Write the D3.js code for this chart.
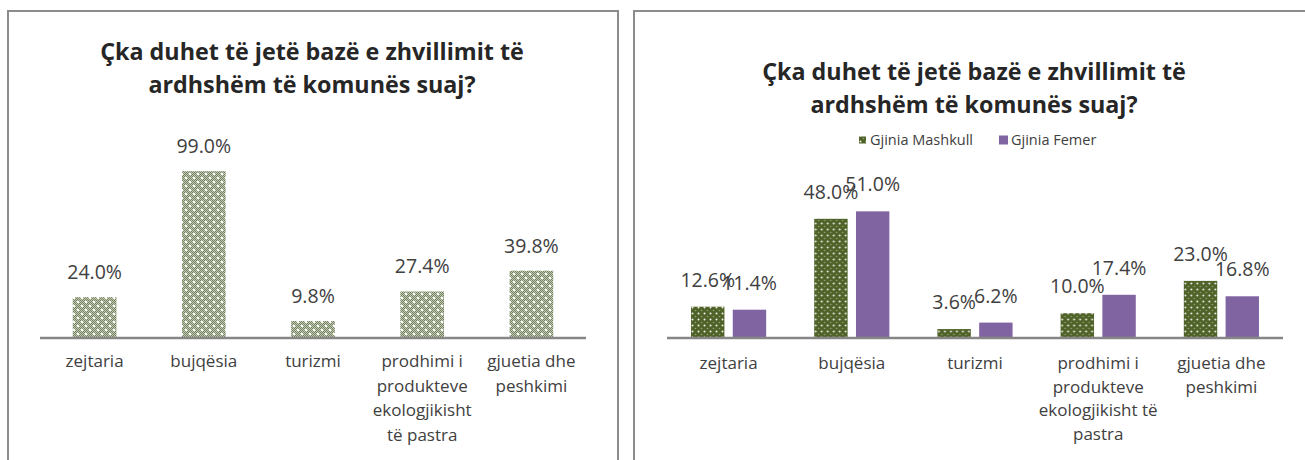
<!DOCTYPE html>
<html lang="sq">
<head>
<meta charset="utf-8">
<title>Çka duhet të jetë bazë e zhvillimit</title>
<script src="https://d3js.org/d3.v7.min.js"></script>
<style>
    body { margin: 0; background: #fff; }
    svg { font-family: "Open Sans", sans-serif; }
    .title { font-weight: bold; fill: #262626; font-size: 23.3px; }
    .lbl { fill: #404040; font-size: 19.5px; }
    .cat { fill: #404040; font-size: 17px; }
    .leg { fill: #404040; font-size: 14.5px; }
</style>
</head>
<body>
<svg id="chart" width="1305" height="460"></svg>
<script>
    // data
    const titleLines = ["Çka duhet të jetë bazë e zhvillimit të", "ardhshëm të komunës suaj?"];
    const categories = ["zejtaria", "bujqësia", "turizmi", "prodhimi", "gjuetia"];
    const catLinesLeft = [["zejtaria"], ["bujqësia"], ["turizmi"],
        ["prodhimi i", "produkteve", "ekologjikisht", "të pastra"], ["gjuetia dhe", "peshkimi"]];
    const catLinesRight = [["zejtaria"], ["bujqësia"], ["turizmi"],
        ["prodhimi i", "produkteve", "ekologjikisht të", "pastra"], ["gjuetia dhe", "peshkimi"]];
    const totalValues = [0.240, 0.990, 0.098, 0.274, 0.398];
    const seriesNames = ["Gjinia Mashkull", "Gjinia Femer"];
    const maleValues = [0.126, 0.480, 0.036, 0.100, 0.230];
    const femaleValues = [0.114, 0.510, 0.062, 0.174, 0.168];

    const svg = d3.select("#chart");
    const fmt = d3.format(".1%");

    // patterns
    const defs = svg.append("defs");
    const chk = defs.append("pattern").attr("id", "chk").attr("patternUnits", "userSpaceOnUse")
        .attr("width", 2).attr("height", 2);
    chk.append("rect").attr("width", 2).attr("height", 2).attr("fill", "#c5ccb8");
    chk.append("rect").attr("width", 1).attr("height", 1).attr("fill", "#6f7f5a");
    chk.append("rect").attr("x", 1).attr("y", 1).attr("width", 1).attr("height", 1).attr("fill", "#6f7f5a");

    const lp = defs.append("pattern").attr("id", "leftPat").attr("patternUnits", "userSpaceOnUse")
        .attr("width", 8).attr("height", 8);
    lp.append("rect").attr("width", 8).attr("height", 8).attr("fill", "url(#chk)");
    lp.append("circle").attr("cx", 2).attr("cy", 2).attr("r", 1.3).attr("fill", "#fff");
    lp.append("circle").attr("cx", 6).attr("cy", 6).attr("r", 1.3).attr("fill", "#fff");

    const mp = defs.append("pattern").attr("id", "malePat").attr("patternUnits", "userSpaceOnUse")
        .attr("width", 6).attr("height", 6);
    mp.append("rect").attr("width", 6).attr("height", 6).attr("fill", "#4f6228");
    mp.append("circle").attr("cx", 1.5).attr("cy", 1.5).attr("r", 1).attr("fill", "#f2f2ea");
    mp.append("circle").attr("cx", 4.5).attr("cy", 4.5).attr("r", 0.8).attr("fill", "#95a37a");

    // panel frames
    svg.append("rect").attr("x", 8).attr("y", 11).attr("width", 610).attr("height", 470)
        .attr("fill", "none").attr("stroke", "#8c8c8c").attr("stroke-width", 2);
    svg.append("rect").attr("x", 634).attr("y", 11).attr("width", 700).attr("height", 470)
        .attr("fill", "none").attr("stroke", "#8c8c8c").attr("stroke-width", 2);

    function drawTitle(cx, y0, gap) {
        svg.append("g").selectAll("text").data(titleLines).join("text")
            .attr("class", "title").attr("text-anchor", "middle")
            .attr("x", cx).attr("y", (d, i) => y0 + i * gap).text(d => d);
    }

    function drawCats(g, x, lines, y0, lh) {
        g.selectAll("text.cat").data(categories).join("text")
            .attr("class", "cat").attr("text-anchor", "middle")
            .each(function(d, i) {
                d3.select(this).selectAll("tspan").data(lines[i]).join("tspan")
                    .attr("x", x(d) + x.bandwidth() / 2)
                    .attr("y", (t, j) => y0 + j * lh).text(t => t);
            });
    }

    // ---- left chart ----
    drawTitle(312, 60, 33);
    const gL = svg.append("g");
    const xL = d3.scaleBand().domain(categories).range([40, 586]).paddingInner(0.6).paddingOuter(0.3);
    const yL = d3.scaleLinear().domain([0, 1]).range([337.5, 169.5]);
    gL.selectAll("rect.bar").data(totalValues).join("rect").attr("class", "bar")
        .attr("x", (d, i) => xL(categories[i])).attr("width", xL.bandwidth())
        .attr("y", d => yL(d)).attr("height", d => yL(0) - yL(d))
        .attr("fill", "url(#leftPat)");
    gL.selectAll("text.lbl").data(totalValues).join("text").attr("class", "lbl")
        .attr("text-anchor", "middle")
        .attr("x", (d, i) => xL(categories[i]) + xL.bandwidth() / 2)
        .attr("y", d => yL(d) - 18).text(d => fmt(d));
    gL.append("line").attr("x1", 40).attr("x2", 586).attr("y1", yL(0) + 0.5).attr("y2", yL(0) + 0.5)
        .attr("stroke", "#868686").attr("stroke-width", 2.5);
    const xLc = xL.copy().paddingInner(0).paddingOuter(0);
    drawCats(gL, xLc, catLinesLeft, 367, 24.5);

    // ---- right chart ----
    drawTitle(974, 80, 33);
    const gR = svg.append("g");
    const x0 = d3.scaleBand().domain(categories).range([667, 1283]).paddingInner(0.39).paddingOuter(0.195);
    const x1 = d3.scaleBand().domain(seriesNames).range([0, x0.bandwidth()]).paddingInner(0.2);
    const yR = d3.scaleLinear().domain([0, 0.6]).range([338, 189]);
    const fills = ["url(#malePat)", "#8064a2"];
    const series = [maleValues, femaleValues];

    const grp = gR.selectAll("g.grp").data(categories).join("g").attr("class", "grp")
        .attr("transform", d => `translate(${x0(d)},0)`);
    grp.selectAll("rect").data((c, i) => series.map((s, k) => ({ k, v: s[i] }))).join("rect")
        .attr("x", d => x1(seriesNames[d.k])).attr("width", x1.bandwidth())
        .attr("y", d => yR(d.v)).attr("height", d => yR(0) - yR(d.v))
        .attr("fill", d => fills[d.k]);
    grp.selectAll("text").data((c, i) => series.map((s, k) => ({ k, v: s[i] }))).join("text")
        .attr("class", "lbl").attr("text-anchor", "middle")
        .attr("x", d => x1(seriesNames[d.k]) + x1.bandwidth() / 2)
        .attr("y", d => yR(d.v) - 20).text(d => fmt(d.v));
    gR.append("line").attr("x1", 667).attr("x2", 1283).attr("y1", yR(0)).attr("y2", yR(0))
        .attr("stroke", "#868686").attr("stroke-width", 2.5);
    const x0c = x0.copy().paddingInner(0).paddingOuter(0);
    drawCats(gR, x0c, catLinesRight, 369, 23.5);

    // legend
    const legX = [859, 999];
    const leg = gR.selectAll("g.leg").data(seriesNames).join("g").attr("class", "leg")
        .attr("transform", (d, i) => `translate(${legX[i]},140)`);
    leg.append("rect").attr("y", (d, i) => i ? -4.5 : -3.5)
        .attr("width", (d, i) => i ? 9 : 7).attr("height", (d, i) => i ? 9 : 7)
        .attr("fill", (d, i) => fills[i]);
    leg.append("text").attr("class", "leg").attr("x", (d, i) => i ? 12 : 11).attr("y", 5)
        .text(d => d);
</script>
</body>
</html>
